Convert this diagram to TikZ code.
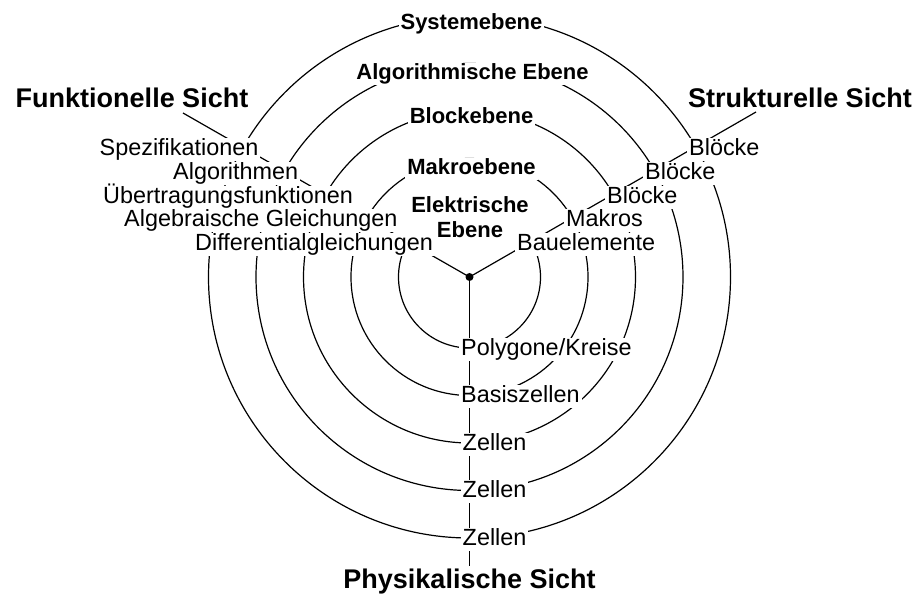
\documentclass[tikz,border=0pt]{standalone}
\usepackage{fontspec}
\setmainfont{Liberation Sans}
\begin{document}
\begin{tikzpicture}[x=1pt,y=-1pt,
  ring/.style={line width=1.2pt},
  lbl/.style={font=\fontsize{23.4}{27}\selectfont, fill=white, inner xsep=2pt, inner ysep=0.5pt, text height=17pt, text depth=5pt},
  lvl/.style={font=\fontsize{22}{25.5}\selectfont\bfseries, fill=white, inner xsep=2pt, inner ysep=0.5pt, text height=16.5pt, text depth=4.5pt},
  view/.style={font=\fontsize{27}{30}\selectfont\bfseries, inner sep=1pt}]
\useasboundingbox (0,0) rectangle (919,596);
\coordinate (c) at (469.5,277);
\coordinate (fl) at (183,113);
\coordinate (sr) at (756,112);
\coordinate (pb) at (469.5,566);
% rings
\foreach \r in {71,118.5,166,213.5,261} \draw[ring] (c) circle[radius=\r pt];
% axes
\draw[ring] (c) -- (fl);
\draw[ring] (c) -- (sr);
\draw[ring] (c) -- (pb);
\fill (c) circle[radius=4pt];
% level labels
\node[lvl, anchor=base] (sys) at (471.5,29.5) {Systemebene};
\node[lvl, anchor=base] (alg) at (472.5,80) {Algorithmische Ebene};
\node[lvl, anchor=base] (blk) at (471.5,124) {Blockebene};
\node[lvl, anchor=base] (mak) at (471.5,175) {Makroebene};
\node[font=\fontsize{22}{25.5}\selectfont\bfseries, fill=white, inner xsep=2pt, inner ysep=0.5pt, align=center, anchor=north] (ele) at (470,195.5) {Elektrische\\Ebene};
% functional view labels
\node[lbl, anchor=base west] (spez) at (97.5,155.5) {Spezifikationen};
\node[lbl, anchor=base west] (algo) at (171,179.5) {Algorithmen};
\node[lbl, anchor=base west] (uebt) at (101,203.5) {Übertragungsfunktionen};
\node[lbl, anchor=base west] (alge) at (122,226.5) {Algebraische Gleichungen};
\node[lbl, anchor=base west] (diff) at (193,250.5) {Differentialgleichungen};
% structural view labels
\node[lbl, anchor=base west] (bl1) at (687,155.5) {Blöcke};
\node[lbl, anchor=base west] (bl2) at (643,179.5) {Blöcke};
\node[lbl, anchor=base west] (bl3) at (605,203.5) {Blöcke};
\node[lbl, anchor=base west] (mks) at (564,226.5) {Makros};
\node[lbl, anchor=base west] (bau) at (515,250.5) {Bauelemente};
% physical view labels
\node[lbl, anchor=base west] (poly) at (459,355.5) {Polygone/Kreise};
\node[lbl, anchor=base west] (basz) at (459,402.5) {Basiszellen};
\node[lbl, anchor=base west] (z1) at (460.5,450.5) {Zellen};
\node[lbl, anchor=base west] (z2) at (460.5,497.5) {Zellen};
\node[lbl, anchor=base west] (z3) at (460.5,545.5) {Zellen};
% view titles
\node[view, anchor=base] (fs) at (132,108) {Funktionelle Sicht};
\node[view, anchor=base] (ss) at (800,108) {Strukturelle Sicht};
\node[view, anchor=base] (ps) at (469.5,588) {Physikalische Sicht};
\end{tikzpicture}
\end{document}
